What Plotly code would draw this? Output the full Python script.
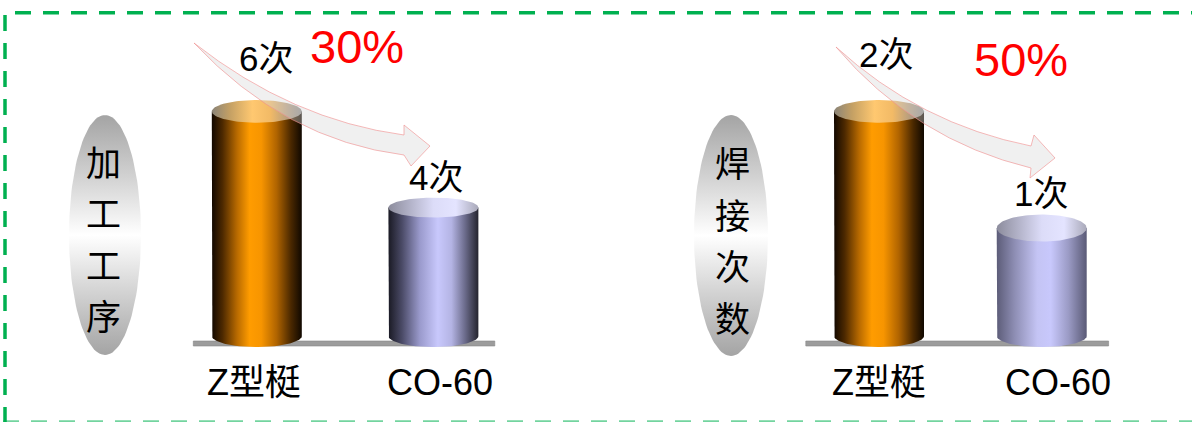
import numpy as np
import plotly.graph_objects as go

W, H = 1192, 422

# ---------------- data ----------------
categories = ["Z型梃", "CO-60"]
process_steps = [6, 4]          # 加工工序 (times)
weld_counts = [2, 1]            # 焊接次数 (times)
process_labels = ["6次", "4次"]
weld_labels = ["2次", "1次"]
process_title = "加工工序"
weld_title = "焊接次数"
process_reduction = "30%"
weld_reduction = "50%"

# ---------------- styles / layout ----------------
FONT = "Liberation Sans, Arial, Noto Sans CJK SC, sans-serif"
GREEN = "#00b050"

orange_body = [[0, '#120800'], [0.12, '#4d2900'], [0.28, '#b86a00'], [0.42, '#ff9c00'],
               [0.55, '#f79500'], [0.72, '#b06400'], [0.88, '#4a2800'], [1, '#100800']]
orange_top = [[0, '#8a8478'], [0.2, '#c4a064'], [0.45, '#ffc870'], [0.65, '#f2ba66'],
              [0.85, '#b49c80'], [1, '#8c8c8c']]
lav_body_dark = [[0, '#1a1a24'], [0.15, '#4a4a66'], [0.35, '#9a9acc'], [0.55, '#c8c8fc'],
                 [0.7, '#b4b4e4'], [0.85, '#6c6c8c'], [1, '#24242e']]
lav_body_light = [[0, '#5c5c78'], [0.2, '#8e8eb4'], [0.45, '#c4c4f4'], [0.6, '#c8c8fc'],
                  [0.8, '#9a9ac4'], [1, '#5a5a76']]
lav_top = [[0, '#8c8c9c'], [0.5, '#dcdcf8'], [0.75, '#e4e4ff'], [1, '#a8a8b8']]

panels = [
    dict(values=process_steps, labels=process_labels, title=process_title,
         reduction=process_reduction,
         centers_px=(256.8, 433.4), floor_px=336.0, floor_val=1.33, px_per_unit=48.1,
         half_w_px=45.0, top_ry_px=[11.3, 10.0], bottom_ry_px=11.0,
         bodies=[orange_body, lav_body_dark], tops=[orange_top, lav_top],
         label_shift=[(9, 53), (3, 30)], cat_shift=[-3, 7], cat_y=382.5,
         ell=(105, 235, 36, 120), title_x=103, title_y=(160, 211.5, 263, 314.5), red_xy=(357, 46),
         ground=(193.3, 341, 494.8, 346),
         arrow=dict(tail=(194, 43), cu=(292, 120), up=(404, 135), cl=(285, 140), lo=(404, 155),
                    b1=(404, 125), tip=(430, 146), b2=(411, 166))),
    dict(values=weld_counts, labels=weld_labels, title=weld_title,
         reduction=weld_reduction,
         centers_px=(879.0, 1041.7), floor_px=336.0, floor_val=0.075, px_per_unit=116.7,
         half_w_px=45.0, top_ry_px=[11.3, 13.5], bottom_ry_px=11.0,
         bodies=[orange_body, lav_body_light], tops=[orange_top, lav_top],
         label_shift=[(7, 57), (-1, 35)], cat_shift=[0, 16], cat_y=382,
         ell=(731, 235.5, 37, 120.5), title_x=732, title_y=(161.5, 213, 264.5, 316), red_xy=(1021, 59.5),
         ground=(805.8, 341, 1108.6, 346),
         arrow=dict(tail=(836, 47), cu=(920, 124), up=(1031, 146), cl=(915, 140), lo=(1031, 168),
                    b1=(1034, 135), tip=(1055, 158), b2=(1030, 178))),
]

fig = go.Figure()
shapes, annotations = [], []

# base pixel-space axes (decoration)
layout_axes = dict(
    xaxis=dict(range=[0, W], domain=[0, 1], visible=False, fixedrange=True),
    yaxis=dict(range=[H, 0], domain=[0, 1], visible=False, fixedrange=True),
)

t_full = np.linspace(0, 2 * np.pi, 121)

for p_i, P in enumerate(panels):
    ax_n = p_i + 2
    xa, ya = f"x{ax_n}", f"y{ax_n}"
    c0, c1 = P["centers_px"]
    ppu_x = c1 - c0
    dom_l = c0 - 0.5 * ppu_x
    dom_r = c1 + 0.5 * ppu_x
    k = P["px_per_unit"]
    rmin = P["floor_val"] - (H - P["floor_px"]) / k
    rmax = rmin + H / k
    layout_axes[f"xaxis{ax_n}"] = dict(range=[-0.5, 1.5], domain=[dom_l / W, dom_r / W],
                                       anchor=ya, visible=False, fixedrange=True)
    layout_axes[f"yaxis{ax_n}"] = dict(range=[rmin, rmax], domain=[0, 1],
                                       anchor=xa, visible=False, fixedrange=True)

    # title ellipse (pixel space)
    ex, ey, erx, ery = P["ell"]
    fig.add_trace(go.Scatter(
        x=ex + erx * np.cos(t_full), y=ey + ery * np.sin(t_full),
        mode="lines", line=dict(width=0), fill="toself",
        fillgradient=dict(type="vertical",
                          colorscale=[[0, '#a4a4a4'], [0.28, '#d6d6d6'], [0.5, '#ffffff'],
                                      [0.72, '#d6d6d6'], [1, '#a4a4a4']]),
        hoverinfo="skip", showlegend=False, xaxis="x", yaxis="y"))

    # ground strip
    gx0, gy0, gx1, gy1 = P["ground"]
    shapes.append(dict(type="rect", xref="x", yref="y", x0=gx0, y0=gy0, x1=gx1, y1=gy1,
                       fillcolor="#9c9c9c", line=dict(color="#868686", width=0.6), layer="below"))

    # cylinders
    hw = P["half_w_px"] / ppu_x
    f = P["floor_val"]
    ryb = P["bottom_ry_px"] / k
    t_bot = np.linspace(np.pi, 2 * np.pi, 60)
    for i, v in enumerate(P["values"]):
        xs = [i - hw, i - hw] + list(i + hw * np.cos(t_bot)) + [i + hw, i + hw, i - hw]
        ys = [v, f] + list(f + ryb * np.sin(t_bot)) + [f, v, v]
        fig.add_trace(go.Scatter(
            x=xs, y=ys, mode="lines", line=dict(width=0), fill="toself",
            fillgradient=dict(type="horizontal", colorscale=P["bodies"][i]),
            hoverinfo="skip", showlegend=False, xaxis=xa, yaxis=ya))
        ryt = P["top_ry_px"][i] / k
        fig.add_trace(go.Scatter(
            x=i + hw * np.cos(t_full), y=v + ryt * np.sin(t_full),
            mode="lines", line=dict(width=0), fill="toself",
            fillgradient=dict(type="horizontal", colorscale=P["tops"][i]),
            hoverinfo="skip", showlegend=False, xaxis=xa, yaxis=ya))

        dx, dy = P["label_shift"][i]
        annotations.append(dict(x=i, y=v, xref=xa, yref=ya, text=P["labels"][i],
                                showarrow=False, xshift=dx, yshift=dy,
                                font=dict(family=FONT, size=35, color="black")))
        annotations.append(dict(x=i, y=P["cat_y"], xref=xa, yref="y", text=categories[i],
                                showarrow=False, xshift=P["cat_shift"][i],
                                font=dict(family=FONT, size=36, color="black")))

    # curved arrow (pixel space, above)
    A = P["arrow"]
    path = (f"M{A['tail'][0]},{A['tail'][1]} Q{A['cu'][0]},{A['cu'][1]} {A['up'][0]},{A['up'][1]} "
            f"L{A['b1'][0]},{A['b1'][1]} L{A['tip'][0]},{A['tip'][1]} L{A['b2'][0]},{A['b2'][1]} "
            f"L{A['lo'][0]},{A['lo'][1]} Q{A['cl'][0]},{A['cl'][1]} {A['tail'][0]},{A['tail'][1]} Z")
    shapes.append(dict(type="path", xref="x", yref="y", path=path,
                       fillcolor="rgba(215,215,215,0.38)",
                       line=dict(color="rgba(240,140,140,0.75)", width=0.8), layer="above"))

    # vertical title text, one character per line
    for ch, cy in zip(P["title"], P["title_y"]):
        annotations.append(dict(x=P["title_x"], y=cy, xref="x", yref="y", text=ch,
                                showarrow=False,
                                font=dict(family="Noto Sans CJK SC", size=35, color="black")))
    rx_, ry_ = P["red_xy"]
    annotations.append(dict(x=rx_, y=ry_, xref="x", yref="y", text=P["reduction"],
                            showarrow=False,
                            font=dict(family=FONT, size=47, color="#ff0000")))

# dashed green border
dash = "16px,12px"
shapes += [
    dict(type="line", xref="x", yref="y", x0=15, y0=12.8, x1=W + 10, y1=12.8,
         line=dict(color=GREEN, width=3.5, dash=dash), layer="above"),
    dict(type="line", xref="x", yref="y", x0=5, y0=15, x1=5, y1=H + 10,
         line=dict(color=GREEN, width=3.5, dash=dash), layer="above"),
    dict(type="line", xref="x", yref="y", x0=3, y0=421.8, x1=W + 10, y1=421.8,
         line=dict(color="rgba(0,176,80,0.55)", width=3, dash=dash), layer="above"),
]

fig.update_layout(
    width=W, height=H, margin=dict(l=0, r=0, t=0, b=0),
    paper_bgcolor="white", plot_bgcolor="rgba(0,0,0,0)",
    showlegend=False, shapes=shapes, annotations=annotations,
    **layout_axes,
)

fig.write_html("out.html", config={"displayModeBar": False})
